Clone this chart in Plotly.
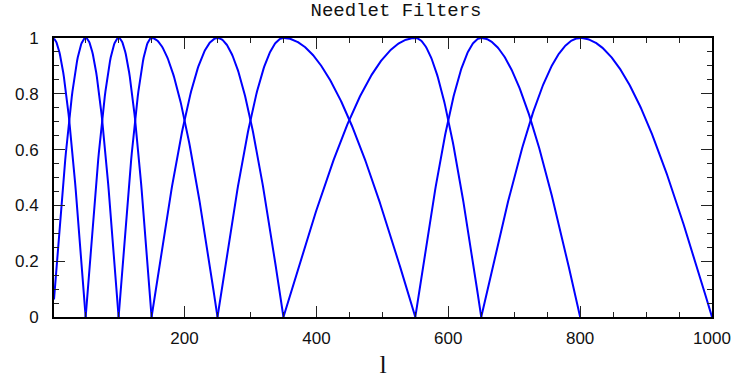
import numpy as np
import plotly.graph_objects as go

# Band centres (multipole l) of the needlet filters
band_peaks = [0, 50, 100, 150, 250, 350, 550, 650, 800]
band_last_edge = 1000
l_min = 2
l_max = 1000

x_tickvals = [200, 400, 600, 800, 1000]
y_tickvals = [0, 0.2, 0.4, 0.6, 0.8, 1]

edges = band_peaks + [band_last_edge]

fig = go.Figure()
for j, peak in enumerate(band_peaks):
    lo = edges[j - 1] if j > 0 else peak
    hi = edges[j + 1]
    l = np.arange(max(lo, l_min), hi + 1)
    h = np.zeros_like(l, dtype=float)
    if j > 0:
        m = l <= peak
        h[m] = np.sin(0.5 * np.pi * (l[m] - lo) / (peak - lo))
    m = l >= peak
    h[m] = np.cos(0.5 * np.pi * (l[m] - peak) / (hi - peak))
    fig.add_trace(go.Scatter(x=l, y=h, mode="lines",
                             line=dict(color="#0000ff", width=2),
                             showlegend=False, hoverinfo="skip"))

axis_common = dict(
    showgrid=False, zeroline=False, showline=True, linecolor="black",
    linewidth=2, mirror="ticks", ticks="inside", ticklen=11, tickwidth=1.3,
    tickcolor="#222222", automargin=False,
    tickfont=dict(family="Liberation Sans, Arial, sans-serif", size=17, color="#111111"),
)

fig.update_layout(
    width=732, height=379,
    margin=dict(l=54, r=20, t=38, b=62, autoexpand=False),
    paper_bgcolor="white", plot_bgcolor="white",
    title=dict(text="Needlet Filters", x=0.541, xanchor="center", xref="container",
               y=1, yref="container", yanchor="top", pad=dict(t=3, b=0, l=0, r=0),
               font=dict(family="Liberation Mono, Courier New, monospace", size=19, color="#111111")),
    xaxis=dict(range=[l_min, l_max], tickvals=x_tickvals,
               minor=dict(dtick=50, tick0=0, ticks="inside", ticklen=5, tickwidth=1.3, tickcolor="#222222"),
               title=dict(text="l", standoff=10,
                          font=dict(family="Liberation Serif, Times New Roman, serif", size=26, color="#111111")),
               ticklabelstandoff=5,
               **axis_common),
    yaxis=dict(range=[0, 1], tickvals=y_tickvals,
               minor=dict(dtick=0.05, tick0=0, ticks="inside", ticklen=5, tickwidth=1.3, tickcolor="#222222"),
               ticklabelstandoff=10,
               **axis_common),
)

fig.write_html("out.html", config={"displayModeBar": False},
               post_script="document.body.style.margin='0px';document.body.style.overflow='hidden';")
